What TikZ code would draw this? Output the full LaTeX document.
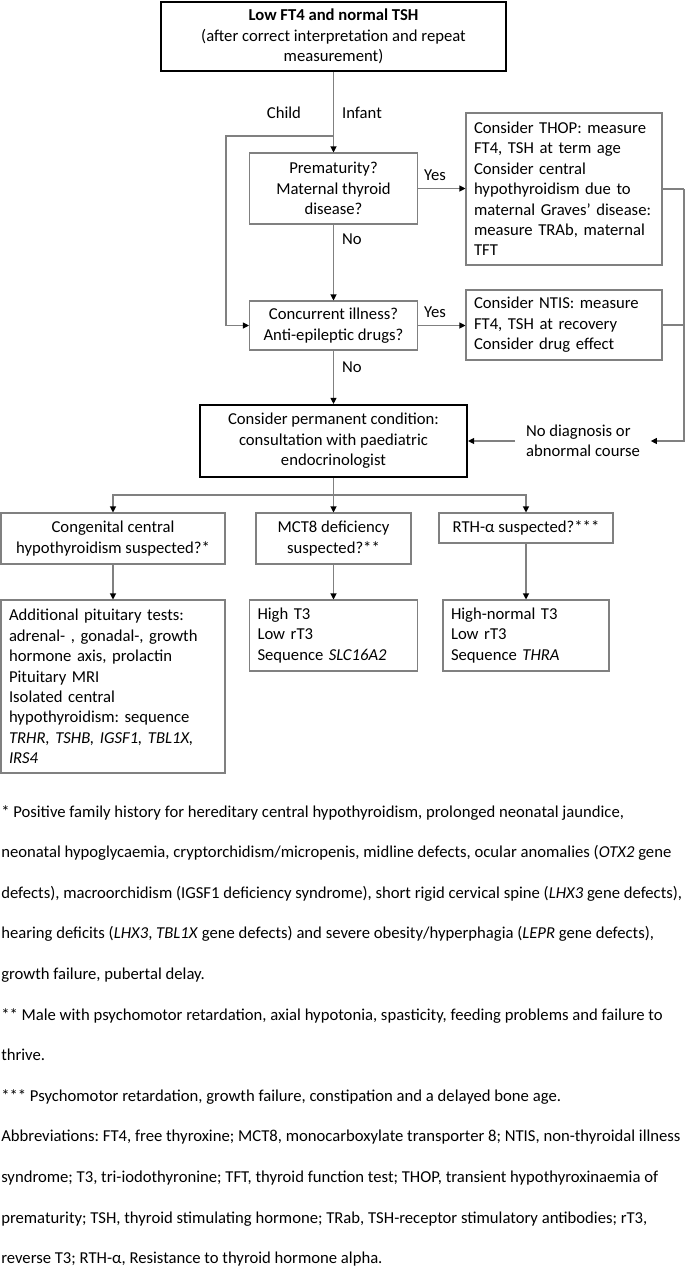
\documentclass[tikz,border=0pt]{standalone}
\usepackage{fontspec}
\setmainfont{Carlito}
\usetikzlibrary{arrows.meta,calc}
\definecolor{lgray}{HTML}{808080}
\frenchspacing
\begin{document}
\begin{tikzpicture}[x=0.75pt,y=-0.75pt,
  every node/.style={font=\fontsize{12.5}{15.3}\selectfont\frenchspacing, text=black},
  dims/.style 2 args={minimum width=#1*0.75pt, minimum height=#2*0.75pt},
  box/.style={draw=lgray, line width=0.8pt, inner sep=0pt, align=center},
  thickbox/.style={draw=black, line width=1.6pt, inner sep=0pt, align=center},
  lbox/.style={draw=lgray, line width=0.8pt, inner ysep=0pt, inner xsep=6pt, align=left, text width=(#1-16)*0.75pt, minimum width=#1*0.75pt},
  lbl/.style={inner sep=0pt},
  fn/.style={anchor=base west, inner sep=0pt},
  conn/.style={draw=lgray, line width=0.8pt},
  arr/.style={conn, -{Triangle[length=4.5pt,width=4.5pt,color=black]}}
]
\useasboundingbox (0,0) rectangle (685,1268);

% boxes
\node[thickbox, dims={345}{69}] (top) at (333.5,36.5)
  {\textbf{Low FT4 and normal TSH}\\(after correct interpretation and repeat\\measurement)};
\node[box, dims={168}{71}] (prem) at (333.5,188.5) {Prematurity?\\Maternal thyroid\\disease?};
\node[lbox=196, minimum height=152*0.75pt] (thop) at (564,189)
  {Consider THOP: measure\\FT4, TSH at term age\\Consider central\\hypothyroidism due to\\maternal Graves’ disease:\\measure TRAb, maternal\\TFT};
\node[box, dims={168}{49}] (conc) at (333.5,325.5) {Concurrent illness?\\Anti-epileptic drugs?};
\node[lbox=196, minimum height=70*0.75pt] (ntis) at (564,325)
  {Consider NTIS: measure\\FT4, TSH at recovery\\Consider drug effect};
\node[thickbox, dims={267}{72}] (cons) at (333.5,441)
  {Consider permanent condition:\\consultation with paediatric\\endocrinologist};
\node[lbl, align=left, inner xsep=8pt] (nodiag) at (583,441) {No diagnosis or\\abnormal course};

\node[box, dims={224}{51}] (cch) at (113,538.5) {Congenital central\\hypothyroidism suspected?*};
\node[box, dims={155}{51}] (mct8) at (333.5,538.5) {MCT8 deficiency\\suspected?**};
\node[box, dims={174}{30}] (rth) at (526,528) {RTH-α suspected?***};

\node[lbox=224, minimum height=173*0.75pt] (add) at (113,686.5)
  {Additional pituitary tests:\\adrenal- , gonadal-, growth\\hormone axis, prolactin\\Pituitary MRI\\Isolated central\\hypothyroidism: sequence\\\textit{TRHR, TSHB, IGSF1, TBL1X,}\\\textit{IRS4}};
\node[lbox=168, minimum height=71*0.75pt] (hit3) at (333.5,635.5)
  {High T3\\Low rT3\\Sequence \textit{SLC16A2}};
\node[lbox=166, minimum height=71*0.75pt] (hn) at (526,635.5)
  {High-normal T3\\Low rT3\\Sequence \textit{THRA}};

% labels
\node[lbl] (child) at (284,113) {Child};
\node[lbl] (infant) at (362,113) {Infant};
\node[lbl] (yes1) at (435,175) {Yes};
\node[lbl] (no1) at (352,239) {No};
\node[lbl] (yes2) at (435,312) {Yes};
\node[lbl] (no2) at (352,367) {No};

% connectors
\coordinate (cl) at (226,136);
\coordinate (rb) at (684,441);
\coordinate (bj) at (333.5,495);
\draw[arr] (top.south) -- (prem.north);
\draw[arr] (top.south |- cl) -- (cl) |- (conc.west);
\draw[arr] (prem.east) -- (thop.west |- prem.east);
\draw[arr] (prem.south) -- (conc.north);
\draw[arr] (conc.east) -- (ntis.west |- conc.east);
\draw[arr] (conc.south) -- (cons.north);
\draw[conn] (thop.east) -- (thop.east -| rb);
\draw[conn] (ntis.east) -- (ntis.east -| rb);
\draw[arr] (thop.east -| rb) -- (rb) -- (nodiag.east);
\draw[arr] (nodiag.west) -- (cons.east);
\draw[conn] (cons.south) -- (bj);
\draw[arr] (bj) -| (cch.north);
\draw[arr] (bj) -- (mct8.north);
\draw[arr] (bj) -| (rth.north);
\draw[arr] (cch.south) -- (add.north);
\draw[arr] (mct8.south) -- (hit3.north);
\draw[arr] (rth.south) -- (hn.north);

% footnotes
\node[fn] (f1) at (1,817) {* Positive family history for hereditary central hypothyroidism, prolonged neonatal jaundice,};
\node[fn] (f2) at (1,857.6) {neonatal hypoglycaemia, cryptorchidism/micropenis, midline defects, ocular anomalies (\textit{OTX2} gene};
\node[fn] (f3) at (1,898.2) {defects), macroorchidism (IGSF1 deficiency syndrome), short rigid cervical spine (\textit{LHX3} gene defects),};
\node[fn] (f4) at (1,938.8) {hearing deficits (\textit{LHX3}, \textit{TBL1X} gene defects) and severe obesity/hyperphagia (\textit{LEPR} gene defects),};
\node[fn] (f5) at (1,979.4) {growth failure, pubertal delay.};
\node[fn] (f6) at (1,1020) {** Male with psychomotor retardation, axial hypotonia, spasticity, feeding problems and failure to};
\node[fn] (f7) at (1,1060.6) {thrive.};
\node[fn] (f8) at (1,1101.2) {*** Psychomotor retardation, growth failure, constipation and a delayed bone age.};
\node[fn] (f9) at (1,1141.8) {Abbreviations: FT4, free thyroxine; MCT8, monocarboxylate transporter 8; NTIS, non-thyroidal illness};
\node[fn] (f10) at (1,1182.4) {syndrome; T3, tri-iodothyronine; TFT, thyroid function test; THOP, transient hypothyroxinaemia of};
\node[fn] (f11) at (1,1223) {prematurity; TSH, thyroid stimulating hormone; TRab, TSH-receptor stimulatory antibodies; rT3,};
\node[fn] (f12) at (1,1263.6) {reverse T3; RTH-α, Resistance to thyroid hormone alpha.};
\end{tikzpicture}
\end{document}
